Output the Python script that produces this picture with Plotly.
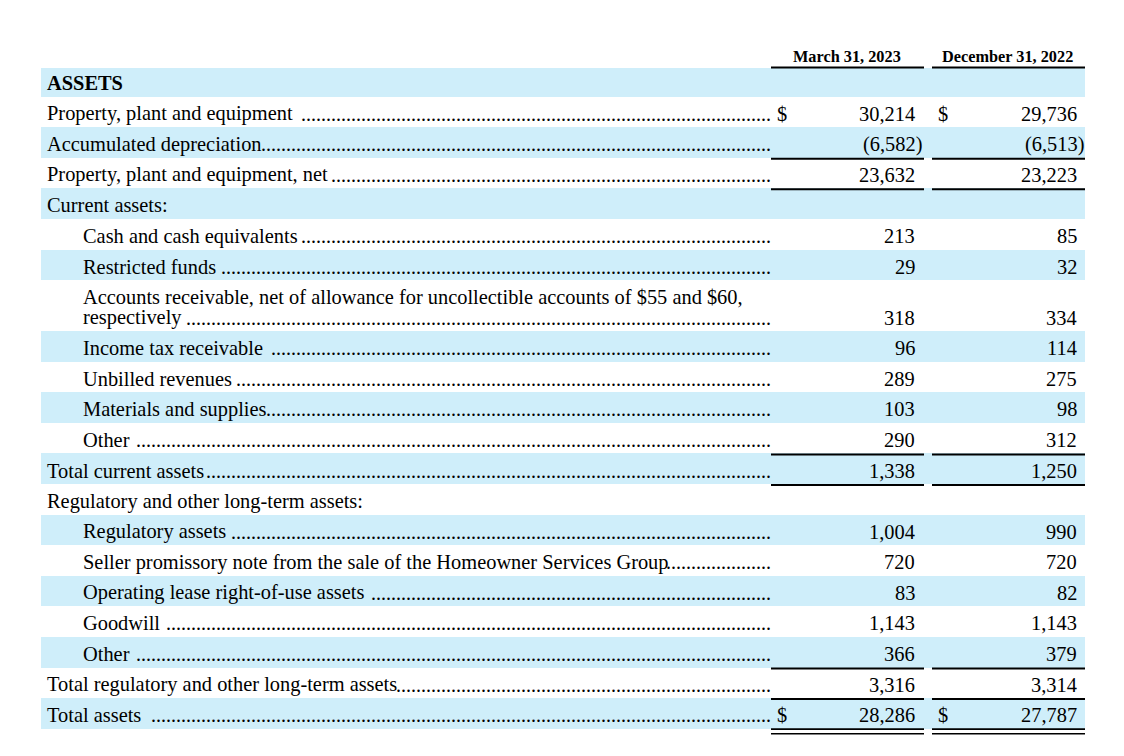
import plotly.graph_objects as go

# balance sheet rows (in millions)
labels = [
    "ASSETS",
    "Property, plant and equipment\u00a0",
    "Accumulated depreciation",
    "Property, plant and equipment, net",
    "Current assets:",
    "Cash and cash equivalents\u00a0",
    "Restricted funds\u00a0",
    "Accounts receivable, net of allowance for uncollectible accounts of $55 and $60,\nrespectively\u00a0",
    "Income tax receivable\u00a0",
    "Unbilled revenues\u00a0",
    "Materials and supplies",
    "Other\u00a0",
    "Total current assets",
    "Regulatory and other long-term assets:",
    "Regulatory assets\u00a0",
    "Seller promissory note from the sale of the Homeowner Services Group",
    "Operating lease right-of-use assets\u00a0",
    "Goodwill\u00a0",
    "Other\u00a0",
    "Total regulatory and other long-term assets",
    "Total assets\u00a0",
]
col_headers = ["March 31, 2023", "December 31, 2022"]
mar_2023 = [None, 30214, -6582, 23632, None, 213, 29, 318, 96, 289, 103, 290, 1338,
            None, 1004, 720, 83, 1143, 366, 3316, 28286]
dec_2022 = [None, 29736, -6513, 23223, None, 85, 32, 334, 114, 275, 98, 312, 1250,
            None, 990, 720, 82, 1143, 379, 3314, 27787]
dollar_rows = [1, 20]

# layout of the rows
indent = [0, 0, 0, 0, 0, 1, 1, 1, 1, 1, 1, 1, 0, 0, 1, 1, 1, 1, 1, 0, 0]
bold = [1] + [0] * 20
rule_below = [0, 0, 1, 1, 0, 0, 0, 0, 0, 0, 0, 1, 1, 0, 0, 0, 0, 0, 1, 1, 2]

W, H = 1124, 756
FONT = "Liberation Serif, Times New Roman, serif"
FS = 20.4
BAND = "#cfeefa"
TOP = 68.3
FIRST_H = 28.3
ROW_H = 30.58
LINE_H = 20.5
X_LEFT, X_RIGHT = 41, 1085
X_TEXT = [47, 83]
X_LEADER_END = 771
DOT_W = 5.0
COLS = [(771, 924), (932, 1085)]
NUM_RIGHT = [915, 1077]
DOLLAR_X = [777, 938]

# Times advance widths (1/1000 em), to know where the leader dots start
_w = {}
_w.update(dict(zip("abcdefghijklmnopqrstuvwxyz",
                   [444, 500, 444, 500, 444, 333, 500, 500, 278, 278, 500, 278, 778,
                    500, 500, 500, 500, 333, 389, 278, 500, 500, 722, 500, 500, 444])))
_w.update(dict(zip("ABCDEFGHIJKLMNOPQRSTUVWXYZ",
                   [722, 667, 667, 722, 611, 556, 722, 722, 333, 389, 722, 611, 889,
                    722, 722, 556, 722, 667, 556, 611, 722, 722, 944, 722, 722, 611])))
_w.update({" ": 250, "\u00a0": 250, ",": 250, ".": 250, "-": 333, ":": 278, "$": 500})
_w.update({d: 500 for d in "0123456789"})


def text_width(s):
    return sum(_w.get(ch, 500) for ch in s) * FS * 0.99 / 1000


tops, heights = [], []
y = TOP
for i, lab in enumerate(labels):
    h = FIRST_H if i == 0 else ROW_H + LINE_H * lab.count("\n")
    tops.append(y)
    heights.append(h)
    y += h

fig = go.Figure()

# alternating row shading
shaded = [i for i in range(len(labels)) if i % 2 == 0]
fig.add_trace(go.Bar(
    orientation="h",
    y=[tops[i] + heights[i] / 2 for i in shaded],
    x=[X_RIGHT - X_LEFT] * len(shaded),
    base=X_LEFT,
    width=[heights[i] for i in shaded],
    marker=dict(color=BAND, line_width=0),
    hoverinfo="skip", showlegend=False,
))


# column rules
def add_rule(yv, width):
    xs, ys = [], []
    for x0, x1 in COLS:
        xs += [x0, x1, None]
        ys += [yv, yv, None]
    fig.add_trace(go.Scatter(x=xs, y=ys, mode="lines", line=dict(color="black", width=width),
                             hoverinfo="skip", showlegend=False))


add_rule(TOP - 0.8, 2)
for i, r in enumerate(rule_below):
    bottom = tops[i] + heights[i]
    if r == 1:
        add_rule(bottom + 1, 2)
    elif r == 2:
        add_rule(bottom + 0.4, 1.6)
        add_rule(bottom + 5, 1.6)

ann = []
for (x0, x1), txt in zip(COLS, col_headers):
    ann.append(dict(x=(x0 + x1) / 2 - 1, y=61.7 - 5.4, text="<b>" + txt + "</b>",
                    xanchor="center", yanchor="middle", font=dict(size=16.3)))


def fmt(v):
    return f"({-v:,})" if v < 0 else f"{v:,}"


for i, lab in enumerate(labels):
    lines = lab.split("\n")
    base_line = tops[i] + heights[i] - 6.6
    x0 = X_TEXT[indent[i]]
    has_vals = mar_2023[i] is not None
    for k, line in enumerate(lines):
        yl = base_line - LINE_H * (len(lines) - 1 - k) - 6.9
        txt = "<b>" + line + "</b>" if bold[i] else line
        ann.append(dict(x=x0, y=yl, text=txt, xanchor="left", yanchor="middle"))
    if has_vals:
        end = x0 + text_width(lines[-1])
        n_dots = int((X_LEADER_END - end) / DOT_W)
        ann.append(dict(x=X_LEADER_END, y=base_line - 6.9, text="." * n_dots,
                        xanchor="right", yanchor="middle", font=dict(size=20)))
        for c, vals in enumerate([mar_2023, dec_2022]):
            v = vals[i]
            xr = NUM_RIGHT[c] + (6.7 if v < 0 else 0)
            ann.append(dict(x=xr, y=base_line - 6.9, text=fmt(v),
                            xanchor="right", yanchor="middle"))
            if i in dollar_rows:
                ann.append(dict(x=DOLLAR_X[c], y=base_line - 6.9, text="$",
                                xanchor="left", yanchor="middle"))

for a in ann:
    a.setdefault("font", dict(size=FS))
    a["font"] = dict(family=FONT, color="black", **a["font"])
    a.update(xref="x", yref="y", showarrow=False, borderwidth=0, borderpad=0)

fig.update_layout(
    width=W, height=H, margin=dict(l=0, r=0, t=0, b=0),
    paper_bgcolor="white", plot_bgcolor="white",
    xaxis=dict(range=[0, W], visible=False, fixedrange=True),
    yaxis=dict(range=[H, 0], visible=False, fixedrange=True),
    annotations=ann, showlegend=False, bargap=0,
)

fig.write_html("out.html", config={"displayModeBar": False},
               post_script="document.body.style.margin='0';")
